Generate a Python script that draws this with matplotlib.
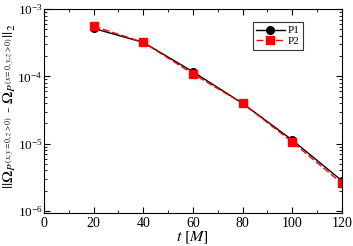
import matplotlib
matplotlib.use('Agg')
import matplotlib.pyplot as plt
import numpy as np

plt.rcParams['font.family'] = 'Liberation Serif'
plt.rcParams['mathtext.fontset'] = 'stix'

t = [20, 40, 60, 80, 100, 120]
p1 = [5.16e-4, 3.2e-4, 1.17e-4, 3.97e-5, 1.13e-5, 2.81e-6]
p2 = [5.58e-4, 3.2e-4, 1.09e-4, 3.97e-5, 1.06e-5, 2.57e-6]

fig = plt.figure(figsize=(3.53, 2.46), dpi=100)
ax = fig.add_axes([0.1246, 0.134, 0.844, 0.829])

ax.plot(t, p1, color='black', marker='o', markersize=5.5, linewidth=1.0, label='P1')
ax.plot(t, p2, color='red', marker='s', markersize=5.5, linewidth=1.0,
        linestyle=(0, (5, 2)), label='P2')

ax.set_yscale('log')
ax.set_xlim(0, 120)
ax.set_ylim(0.93e-6, 1e-3)
ax.set_xticks([0, 20, 40, 60, 80, 100, 120])
ax.set_xticks(np.arange(0, 121, 10), minor=True)
ax.tick_params(which='both', direction='in', top=True, right=True)
ax.tick_params(axis='x', labelsize=10, pad=3)
ax.tick_params(axis='y', labelsize=9.5, pad=1)
ax.tick_params(which='major', length=4)
ax.tick_params(which='minor', length=2)
for s in ax.spines.values():
    s.set_linewidth(0.8)

ax.set_xlabel(r'$t\ [M]$', fontsize=11.5)
ax.xaxis.set_label_coords(0.5, -0.08)
ax.set_ylabel(r'$||\Omega_{P^{(x,y=0,z>0)}}$ - $\Omega_{P^{(x=0,y,z>0)}}||_2$',
              fontsize=11.5)
ax.yaxis.set_label_coords(-0.088, 0.525)

leg = ax.legend(loc='upper left', bbox_to_anchor=(0.70, 0.935), fontsize=8,
                frameon=True, fancybox=False, edgecolor='black',
                borderpad=0.3, handlelength=2.6, handletextpad=0.3,
                labelspacing=0.1, borderaxespad=0)
leg.get_frame().set_linewidth(0.8)

fig.savefig('out.png', dpi=100)
